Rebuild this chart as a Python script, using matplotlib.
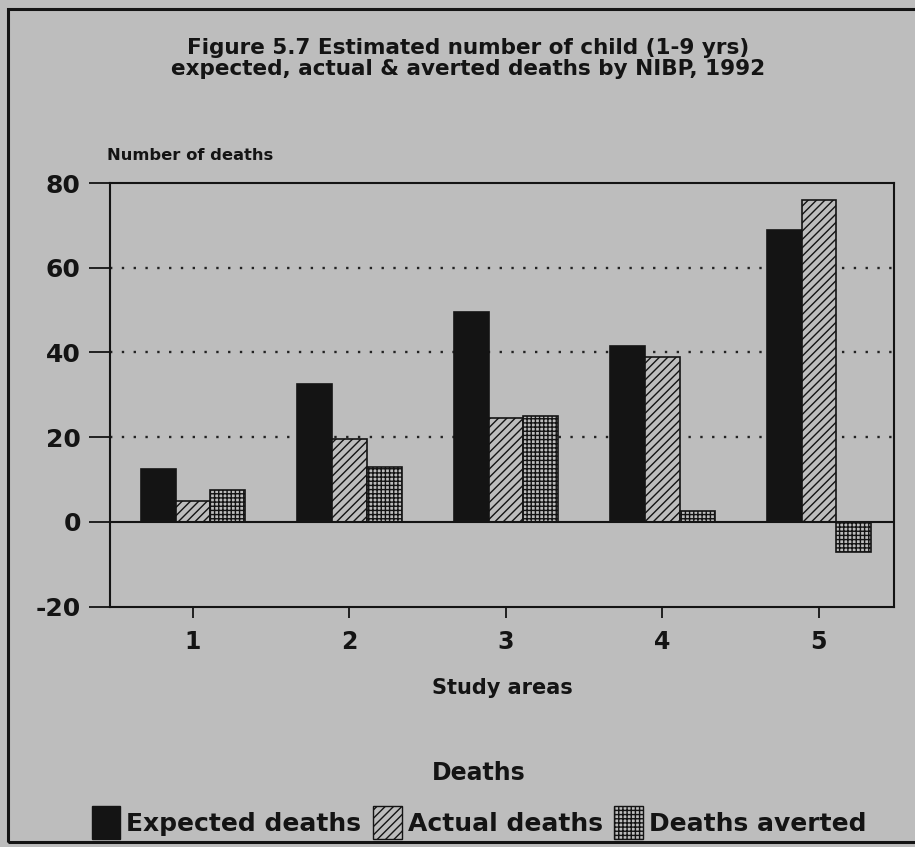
import matplotlib
matplotlib.use("Agg")
import matplotlib.pyplot as plt
import matplotlib.patches as mpatches
import numpy as np

# Child (1-9 yrs) deaths per study area
areas = ["1", "2", "3", "4", "5"]
expected = [12.5, 32.5, 49.5, 41.5, 69.0]
actual = [5.0, 19.5, 24.5, 39.0, 76.0]
averted = [7.5, 13.0, 25.0, 2.5, -7.0]
series_names = ["Expected deaths", "Actual deaths", "Deaths averted"]
y_ticks = [-20, 0, 20, 40, 60, 80]

BG = "#bdbdbd"
INK = "#141414"
plt.rcParams["font.family"] = ["DejaVu Sans"]
plt.rcParams["font.weight"] = "bold"
plt.rcParams["axes.unicode_minus"] = False
plt.rcParams["hatch.linewidth"] = 1.0
plt.rcParams["hatch.color"] = INK

W, H = 915, 847
fig = plt.figure(figsize=(W / 100, H / 100), dpi=100, facecolor=BG)


def fx(px):
    return px / W


def fy(py):
    return 1 - py / H


# outer frame
fig.patches.append(mpatches.Rectangle((fx(8), fy(842)), 1.2, fy(9) - fy(842),
                                      transform=fig.transFigure, fill=False,
                                      edgecolor=INK, linewidth=2.2))

ax = fig.add_axes([fx(110), fy(606.7), fx(894) - fx(110), fy(183) - fy(606.7)])
ax.set_facecolor(BG)

x = np.arange(1, len(areas) + 1)
w = 0.222
styles = [
    dict(facecolor=INK, edgecolor=INK),
    dict(facecolor=BG, edgecolor=INK, hatch="////"),
    dict(facecolor=BG, edgecolor=INK, hatch="++++"),
]
for off, vals, st in zip([-w, 0, w], [expected, actual, averted], styles):
    ax.bar(x + off, vals, width=w, linewidth=1.2, zorder=3, **st)

ax.set_xlim(0.47, 5.48)
ax.set_ylim(-20, 80)
ax.set_yticks(y_ticks)
ax.set_xticks(x)
ax.set_xticklabels(areas)
for g in [20, 40, 60]:
    ax.axhline(g, color="#222222", linewidth=1.7, linestyle=(0, (1, 4)), zorder=1)
ax.axhline(0, color=INK, linewidth=1.5, zorder=4)

for s in ax.spines.values():
    s.set_linewidth(1.5)
    s.set_color(INK)
ax.tick_params(axis="y", direction="out", length=15, width=1.3, pad=6,
               labelsize=18, colors=INK)
ax.tick_params(axis="x", direction="out", length=8, width=1.3, pad=9,
               labelsize=17, colors=INK)
for lab in ax.get_xticklabels() + ax.get_yticklabels():
    lab.set_fontweight("bold")

ax.set_xlabel("Study areas", fontsize=15, fontweight="bold", labelpad=17,
              color=INK)
fig.text(fx(107), fy(155), "Number of deaths", fontsize=11.8, fontweight="bold",
         ha="left", va="center", color=INK)

fig.text(fx(468), fy(48), "Figure 5.7 Estimated number of child (1-9 yrs)",
         fontsize=15.5, fontweight="bold", ha="center", va="center", color=INK)
fig.text(fx(468), fy(69), "expected, actual & averted deaths by NIBP, 1992",
         fontsize=15.5, fontweight="bold", ha="center", va="center", color=INK)

handles = [mpatches.Patch(**st, linewidth=1.0) for st in styles]
leg = fig.legend(handles, series_names, loc="center", ncol=3,
                 bbox_to_anchor=(fx(479), fy(800)), frameon=False,
                 prop=dict(size=18, weight="bold"), title="Deaths",
                 title_fontproperties=dict(size=17, weight="bold"),
                 handlelength=1.15, handleheight=1.7, handletextpad=0.25,
                 columnspacing=0.45, borderpad=0.2, labelspacing=0.84)
for t in leg.get_texts():
    t.set_color(INK)
leg.get_title().set_color(INK)

fig.savefig("out.png", dpi=100, facecolor=BG)
